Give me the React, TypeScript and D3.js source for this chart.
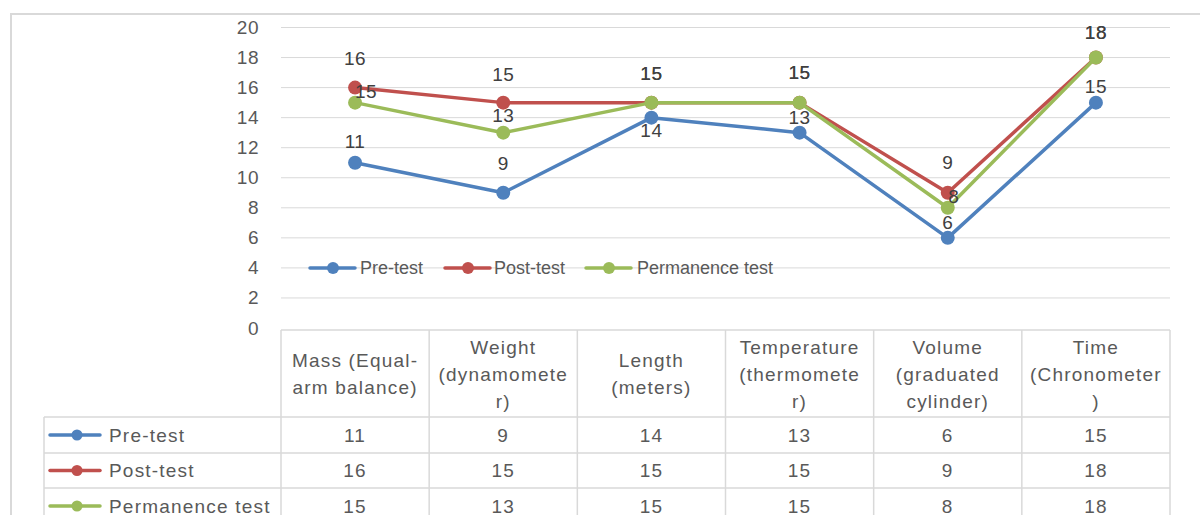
import React from "react";
import * as d3 from "d3";

const categories = [
  "Mass (Equal-arm balance)",
  "Weight (dynamometer)",
  "Length (meters)",
  "Temperature (thermometer)",
  "Volume (graduated cylinder)",
  "Time (Chronometer)",
];
const categoryLines = [
  ["Mass (Equal-", "arm balance)"],
  ["Weight", "(dynamomete", "r)"],
  ["Length", "(meters)"],
  ["Temperature", "(thermomete", "r)"],
  ["Volume", "(graduated", "cylinder)"],
  ["Time", "(Chronometer", ")"],
];
const seriesNames = ["Pre-test", "Post-test", "Permanence test"];
const preTest = [11, 9, 14, 13, 6, 15];
const postTest = [16, 15, 15, 15, 9, 18];
const permanenceTest = [15, 13, 15, 15, 8, 18];
const yTicks = [0, 2, 4, 6, 8, 10, 12, 14, 16, 18, 20];

const colors = ["#4f81bd", "#c0504d", "#9bbb59"];
// data label placement (dx, dy) relative to point
const labelOffsets = [
  [[0, -21], [0, -29], [0, 13], [0, -15], [0, -15], [0, -16]],
  [[0, -29], [0, -28], [0, -29], [0, -30], [0, -30], [0, -25]],
  [[11, -11], [0, -17], [0, -29], [0, -30], [6, -11], [0, -25]],
];

const FONT = "'Liberation Sans', Arial, sans-serif";
const TEXT = "#595959";
const GRID = "#d9d9d9";

export default function App() {
  const series = [preTest, postTest, permanenceTest];
  const left = 281;
  const right = 1170;
  const x = d3.scaleBand<number>().domain(d3.range(categories.length)).range([left, right]);
  const y = d3.scaleLinear().domain([0, 20]).range([328, 27.5]);
  const line = d3
    .line<number>()
    .x((_, i) => (x(i) as number) + x.bandwidth() / 2)
    .y((d) => y(d));

  const headerTop = 330;
  const headerBottom = 417;
  const rowTops = [417, 453, 488];
  const rowH = [36, 35, 36];
  const tableLeft = 44;
  const colEdges = d3.range(categories.length + 1).map((i) => left + i * x.bandwidth());

  const legendItems = [
    { lx: 310, tx: 360 },
    { lx: 445, tx: 494 },
    { lx: 586, tx: 637 },
  ];

  return (
    <svg
      width={1200}
      height={515}
      style={{ position: "absolute", left: 0, top: 0, background: "#fff" }}
      fontFamily={FONT}
    >
      <rect x={11} y={14} width={1200} height={520} fill="#fff" stroke={GRID} strokeWidth={2} />
      {/* gridlines */}
      {yTicks.map((t) => (
        <g key={t}>
          {t > 0 && (
            <line x1={left} x2={right} y1={y(t)} y2={y(t)} stroke={GRID} strokeWidth={1} />
          )}
          <text
            x={259}
            y={y(t)}
            textAnchor="end"
            dominantBaseline="central"
            fontSize={19}
            fill={TEXT}
            letterSpacing={0.5}
          >
            {t}
          </text>
        </g>
      ))}
      {/* lines */}
      {series.map((s, si) => (
        <g key={si}>
          <path d={line(s) || ""} fill="none" stroke={colors[si]} strokeWidth={3.5} strokeLinejoin="round" />
          {s.map((v, i) => (
            <circle key={i} cx={(x(i) as number) + x.bandwidth() / 2} cy={y(v)} r={7} fill={colors[si]} />
          ))}
        </g>
      ))}
      {/* data labels */}
      {series.map((s, si) =>
        s.map((v, i) => (
          <text
            key={`${si}-${i}`}
            x={(x(i) as number) + x.bandwidth() / 2 + labelOffsets[si][i][0]}
            y={y(v) + labelOffsets[si][i][1]}
            textAnchor="middle"
            dominantBaseline="central"
            fontSize={19}
            fill="#404040"
            letterSpacing={0.5}
          >
            {v}
          </text>
        ))
      )}
      {/* legend */}
      {legendItems.map((it, si) => (
        <g key={si}>
          <line x1={it.lx} x2={it.lx + 45} y1={268} y2={268} stroke={colors[si]} strokeWidth={3.5} strokeLinecap="round" />
          <circle cx={it.lx + 23} cy={268} r={6} fill={colors[si]} />
          <text x={it.tx} y={268} dominantBaseline="central" fontSize={18} fill={TEXT}>
            {seriesNames[si]}
          </text>
        </g>
      ))}
      {/* data table */}
      <g stroke={GRID} strokeWidth={1.5} fill="none">
        <line x1={left} x2={right} y1={headerTop} y2={headerTop} />
        <line x1={tableLeft} x2={right} y1={headerBottom} y2={headerBottom} />
        {rowTops.slice(1).map((r) => (
          <line key={r} x1={tableLeft} x2={right} y1={r} y2={r} />
        ))}
        <line x1={tableLeft} x2={tableLeft} y1={headerBottom} y2={530} />
        {colEdges.map((c) => (
          <line key={c} x1={c} x2={c} y1={headerTop} y2={530} />
        ))}
      </g>
      {categoryLines.map((lines, i) => {
        const cx = (x(i) as number) + x.bandwidth() / 2;
        const mid = (headerTop + headerBottom) / 2 + 0.5;
        const lh = 27;
        return (
          <text key={i} textAnchor="middle" fontSize={19} fill={TEXT} letterSpacing={1.2}>
            {lines.map((ln, j) => (
              <tspan key={j} x={cx} y={mid + (j - (lines.length - 1) / 2) * lh} dominantBaseline="central">
                {ln}
              </tspan>
            ))}
          </text>
        );
      })}
      {series.map((s, si) => {
        const cy = rowTops[si] + rowH[si] / 2;
        return (
          <g key={si}>
            <line x1={50} x2={100} y1={cy} y2={cy} stroke={colors[si]} strokeWidth={3.5} strokeLinecap="round" />
            <circle cx={77} cy={cy} r={5.5} fill={colors[si]} />
            <text x={109} y={cy} dominantBaseline="central" fontSize={19} fill={TEXT} letterSpacing={1.2}>
              {seriesNames[si]}
            </text>
            {s.map((v, i) => (
              <text
                key={i}
                x={(x(i) as number) + x.bandwidth() / 2}
                y={cy}
                textAnchor="middle"
                dominantBaseline="central"
                fontSize={19}
                fill={TEXT}
                letterSpacing={1.2}
              >
                {v}
              </text>
            ))}
          </g>
        );
      })}
    </svg>
  );
}
